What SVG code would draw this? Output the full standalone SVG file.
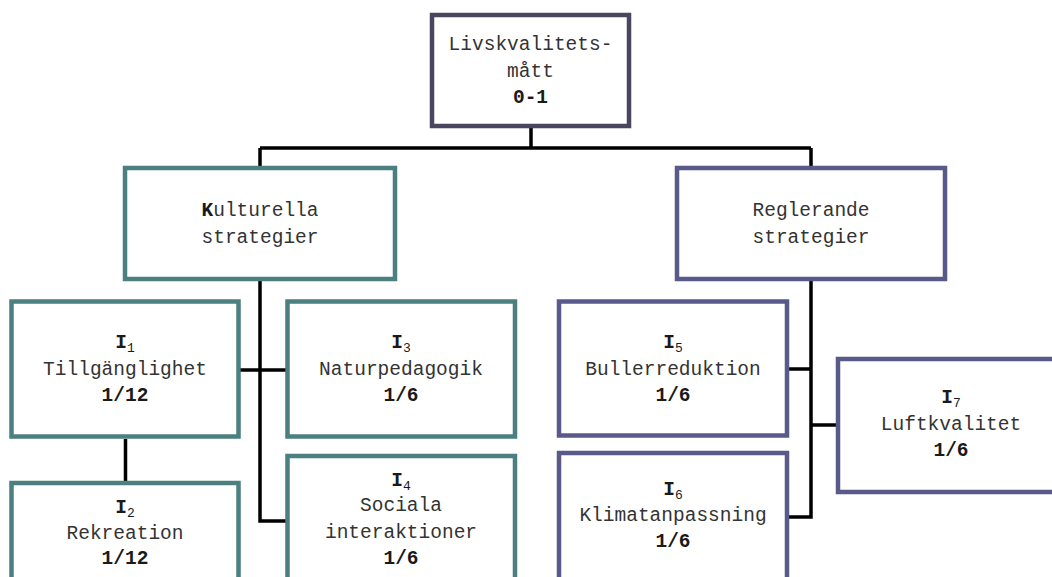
<svg xmlns="http://www.w3.org/2000/svg" width="1052" height="577" viewBox="0 0 1052 577">
<style>
.box{fill:#fff;stroke-width:4.5}
.top{stroke:#4a4660}
.teal{stroke:#4b7f80}
.pur{stroke:#595a8a}
.conn{stroke:#000;stroke-width:3.5;fill:none}
text{font-family:"Liberation Mono","Courier New",monospace;font-size:19.5px;fill:#333;text-anchor:middle}
.b{font-weight:bold;fill:#1a1a1a}
.sub{font-size:13px;font-weight:normal}
</style>
<rect width="1052" height="577" fill="#fff"/>
<g id="connectors">
<path class="conn" d="M531 128V148M260 148H811M260 148V166M811 148V166"/>
<path class="conn" d="M260 281V521H286M240 370H286M125.5 439V481"/>
<path class="conn" d="M811 281V517H789M789 369H811M811 425H836"/>
</g>
<g id="root">
<rect class="box top" x="432" y="15" width="197" height="111"/>
<text x="530.5" y="50">Livskvalitets-</text>
<text x="530.5" y="77">mått</text>
<text x="530.5" y="103" class="b">0-1</text>
</g>
<g id="kulturella">
<rect class="box teal" x="125" y="168" width="270" height="111"/>
<text x="260" y="216"><tspan class="b">K</tspan>ulturella</text>
<text x="260" y="243">strategier</text>
</g>
<g id="reglerande">
<rect class="box pur" x="677" y="168" width="268" height="111"/>
<text x="811" y="216">Reglerande</text>
<text x="811" y="243">strategier</text>
</g>
<g id="i1">
<rect class="box teal" x="11.5" y="301.5" width="227" height="135"/>
<text x="125" y="348" class="b">I<tspan class="sub" dy="4">1</tspan></text>
<text x="125" y="374.5">Tillgänglighet</text>
<text x="125" y="401" class="b">1/12</text>
</g>
<g id="i2">
<rect class="box teal" x="11.5" y="483" width="227" height="110"/>
<text x="125" y="513" class="b">I<tspan class="sub" dy="4">2</tspan></text>
<text x="125" y="539">Rekreation</text>
<text x="125" y="564" class="b">1/12</text>
</g>
<g id="i3">
<rect class="box teal" x="287.5" y="301.5" width="227.5" height="135"/>
<text x="401" y="348" class="b">I<tspan class="sub" dy="4">3</tspan></text>
<text x="401" y="374.5">Naturpedagogik</text>
<text x="401" y="401" class="b">1/6</text>
</g>
<g id="i4">
<rect class="box teal" x="287.5" y="456" width="227.5" height="140"/>
<text x="401" y="486" class="b">I<tspan class="sub" dy="4">4</tspan></text>
<text x="401" y="511">Sociala</text>
<text x="401" y="538">interaktioner</text>
<text x="401" y="564" class="b">1/6</text>
</g>
<g id="i5">
<rect class="box pur" x="559" y="301.5" width="228" height="134"/>
<text x="673" y="348" class="b">I<tspan class="sub" dy="4">5</tspan></text>
<text x="673" y="374.5">Bullerreduktion</text>
<text x="673" y="401" class="b">1/6</text>
</g>
<g id="i6">
<rect class="box pur" x="559" y="453" width="228" height="140"/>
<text x="673" y="495" class="b">I<tspan class="sub" dy="4">6</tspan></text>
<text x="673" y="521">Klimatanpassning</text>
<text x="673" y="547" class="b">1/6</text>
</g>
<g id="i7">
<rect class="box pur" x="838" y="359" width="226" height="133"/>
<text x="951" y="403" class="b">I<tspan class="sub" dy="4">7</tspan></text>
<text x="951" y="430">Luftkvalitet</text>
<text x="951" y="456" class="b">1/6</text>
</g>
</svg>
